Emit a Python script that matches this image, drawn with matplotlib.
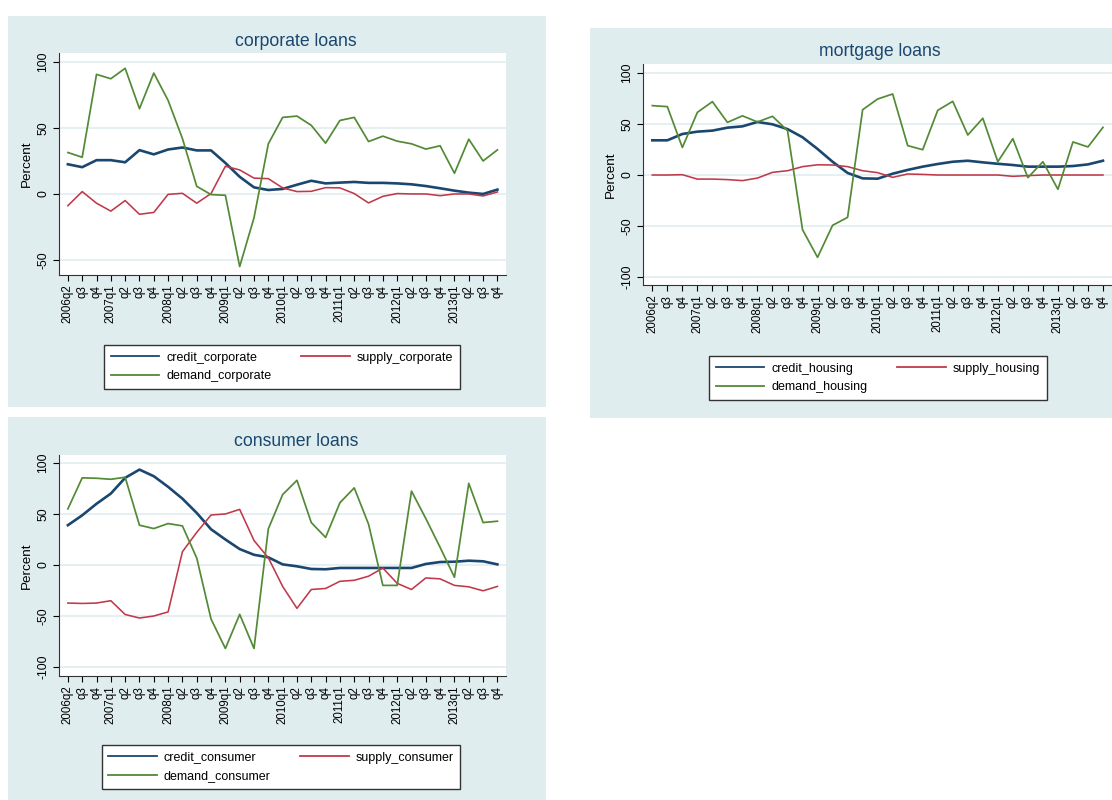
"""Bank lending survey: credit, supply and demand by loan type."""

import matplotlib
matplotlib.use("Agg")
import matplotlib.pyplot as plt
from matplotlib.patches import Rectangle

plt.rcParams["font.family"] = ["Liberation Sans", "DejaVu Sans"]

W, H = 1112, 800

quarters = [
    "2006q2", "q3", "q4",
    "2007q1", "q2", "q3", "q4",
    "2008q1", "q2", "q3", "q4",
    "2009q1", "q2", "q3", "q4",
    "2010q1", "q2", "q3", "q4",
    "2011q1", "q2", "q3", "q4",
    "2012q1", "q2", "q3", "q4",
    "2013q1", "q2", "q3", "q4",
]

# corporate loans
credit_corporate = [22.5, 20.3, 25.6, 25.6, 24.0, 33.2, 30.0, 33.7, 35.2, 33.0, 33.0,
                    23.5, 13.0, 5.0, 3.0, 3.8, 7.0, 10.0, 8.0, 8.6, 9.1,
                    8.4, 8.4, 8.0, 7.3, 6.0, 4.3, 2.5, 1.0, 0.0, 3.3]
supply_corporate = [-8.9, 1.8, -7.0, -13.0, -5.0, -15.4, -14.0, -0.3, 0.5, -7.0, 0.3,
                    21.0, 18.2, 12.0, 11.6, 4.6, 1.8, 2.0, 4.8, 4.6, 0.3,
                    -6.8, -1.8, 0.3, 0.0, 0.0, -1.3, 0.0, 0.0, -1.5, 1.5]
demand_corporate = [31.4, 27.8, 90.6, 87.3, 95.2, 64.6, 91.6, 70.9, 42.0, 5.8, -0.5,
                    -1.0, -55.0, -18.0, 38.0, 58.0, 59.0, 52.0, 38.5, 55.7, 58.0,
                    39.7, 43.8, 40.0, 38.0, 34.0, 36.5, 15.7, 41.5, 25.0, 33.4]

# mortgage loans
credit_housing = [34.0, 34.0, 40.2, 42.5, 43.5, 46.4, 47.7, 52.0, 49.7, 45.0, 37.0,
                  25.5, 13.0, 2.0, -3.3, -3.6, 1.3, 5.0, 8.2, 10.8, 13.0,
                  14.0, 12.4, 11.0, 9.8, 8.2, 8.2, 8.2, 8.8, 10.4, 14.0]
supply_housing = [0.0, 0.0, 0.3, -4.0, -4.0, -4.5, -5.5, -3.0, 2.6, 4.2, 8.2,
                  10.0, 9.8, 8.2, 4.2, 2.3, -2.3, 1.0, 0.6, 0.0, 0.0,
                  0.0, 0.0, 0.0, -1.3, -0.6, 0.0, 0.0, 0.0, 0.0, 0.0]
demand_housing = [68.0, 67.0, 27.0, 61.4, 71.9, 51.6, 58.0, 52.0, 57.5, 43.5, -53.6,
                  -80.7, -49.3, -41.5, 64.0, 74.5, 79.4, 28.8, 24.8, 63.4, 72.2,
                  39.2, 55.6, 13.0, 35.6, -2.6, 13.0, -14.0, 32.4, 27.5, 46.7]

# consumer loans
credit_consumer = [39.0, 48.7, 60.0, 70.0, 85.4, 93.5, 87.0, 76.6, 65.0, 51.0, 35.0,
                   25.0, 15.6, 10.0, 7.5, 0.6, -1.3, -3.9, -4.2, -2.9, -2.9,
                   -2.9, -2.9, -2.9, -2.9, 1.0, 2.9, 3.2, 4.2, 3.6, 0.6]
supply_consumer = [-37.3, -37.7, -37.3, -35.0, -48.5, -52.0, -50.0, -46.0, 13.0, 32.0, 49.0,
                   50.0, 54.5, 24.0, 7.0, -21.0, -42.5, -24.0, -23.0, -16.0, -15.0,
                   -11.0, -3.0, -18.0, -24.0, -12.7, -13.6, -20.0, -21.4, -25.3, -21.0]
demand_consumer = [55.0, 85.4, 85.0, 84.0, 86.0, 39.0, 35.7, 40.6, 38.3, 6.8, -53.0,
                   -81.8, -48.4, -81.8, 35.4, 69.0, 83.0, 41.6, 27.0, 61.0, 75.6,
                   40.0, -20.0, -20.0, 72.4, 45.5, 17.2, -12.0, 80.0, 41.6, 42.9]

REGION = "#e0edee"
NAVY = "#1a476f"
RED = "#c0394a"
GREEN = "#528a35"
GRID = "#e6eff1"


def px_axes(fig, left, top, right, bottom):
    """Add axes using pixel edges measured from the top-left corner."""
    return fig.add_axes([left / W, 1 - bottom / H, (right - left) / W, (bottom - top) / H])


def add_region(fig, left, top, right, bottom):
    fig.patches.append(Rectangle((left / W, 1 - bottom / H), (right - left) / W,
                                 (bottom - top) / H, transform=fig.transFigure,
                                 facecolor=REGION, edgecolor="none", zorder=-1))


def draw_panel(fig, ax, title, title_xy, series, names, ylim, yticks, legend_xy):
    x = range(len(quarters))
    credit, supply, demand = series
    h1, = ax.plot(x, credit, color=NAVY, linewidth=1.9, zorder=3)
    h2, = ax.plot(x, supply, color=RED, linewidth=1.15, zorder=4)
    h3, = ax.plot(x, demand, color=GREEN, linewidth=1.25, zorder=5)

    ax.set_xlim(-0.62, 30.6)
    ax.set_ylim(*ylim)
    ax.set_yticks(yticks)
    ax.set_yticklabels([str(v) for v in yticks], rotation=90, va="center")
    ax.set_xticks(list(x))
    ax.set_xticklabels(quarters, rotation=90, fontsize=8.3)
    ax.tick_params(axis="y", labelsize=8.7, length=4, width=0.8, pad=3)
    ax.tick_params(axis="x", length=4, width=0.8, pad=3)
    for side in ("top", "right"):
        ax.spines[side].set_visible(False)
    for side in ("left", "bottom"):
        ax.spines[side].set_linewidth(0.8)
        ax.spines[side].set_color("#333333")
    ax.yaxis.grid(True, color=GRID, linewidth=1.4)
    ax.set_axisbelow(True)
    ax.set_ylabel("Percent", fontsize=9.7, labelpad=3)

    fig.text(title_xy[0] / W, 1 - title_xy[1] / H, title, color=NAVY,
             fontsize=12.7, ha="center", va="center")

    # row-major order: credit, supply on the first row, demand below
    leg = ax.legend([h1, h3, h2], [names[0], names[2], names[1]], ncol=2,
                    loc="center", bbox_to_anchor=(legend_xy[0] / W, 1 - legend_xy[1] / H),
                    bbox_transform=fig.transFigure, fontsize=9, frameon=True,
                    fancybox=False, framealpha=1, handlelength=3.9, handletextpad=0.55,
                    columnspacing=2.4, labelspacing=0.55, borderpad=0.5)
    leg.get_frame().set_edgecolor("#333333")
    leg.get_frame().set_linewidth(1.0)
    for line in leg.get_lines():
        line.set_linewidth(1.3)


fig = plt.figure(figsize=(W / 100, H / 100), dpi=100)

add_region(fig, 8, 16, 546, 407)
add_region(fig, 590, 28, 1112, 418)
add_region(fig, 8, 417, 546, 800)

ax1 = px_axes(fig, 59, 53, 506, 275)
draw_panel(fig, ax1, "corporate loans", (296, 41),
           (credit_corporate, supply_corporate, demand_corporate),
           ["credit_corporate", "supply_corporate", "demand_corporate"],
           (-61.4, 106.8), [-50, 0, 50, 100], (282, 367))

ax2 = px_axes(fig, 643, 64, 1112, 285)
draw_panel(fig, ax2, "mortgage loans", (880, 52),
           (credit_housing, supply_housing, demand_housing),
           ["credit_housing", "supply_housing", "demand_housing"],
           (-107.8, 108.8), [-100, -50, 0, 50, 100], (878, 378))

ax3 = px_axes(fig, 59, 455, 506, 676)
draw_panel(fig, ax3, "consumer loans", (296, 442),
           (credit_consumer, supply_consumer, demand_consumer),
           ["credit_consumer", "supply_consumer", "demand_consumer"],
           (-108.8, 107.8), [-100, -50, 0, 50, 100], (281, 767))

fig.savefig("out.png", dpi=100)
